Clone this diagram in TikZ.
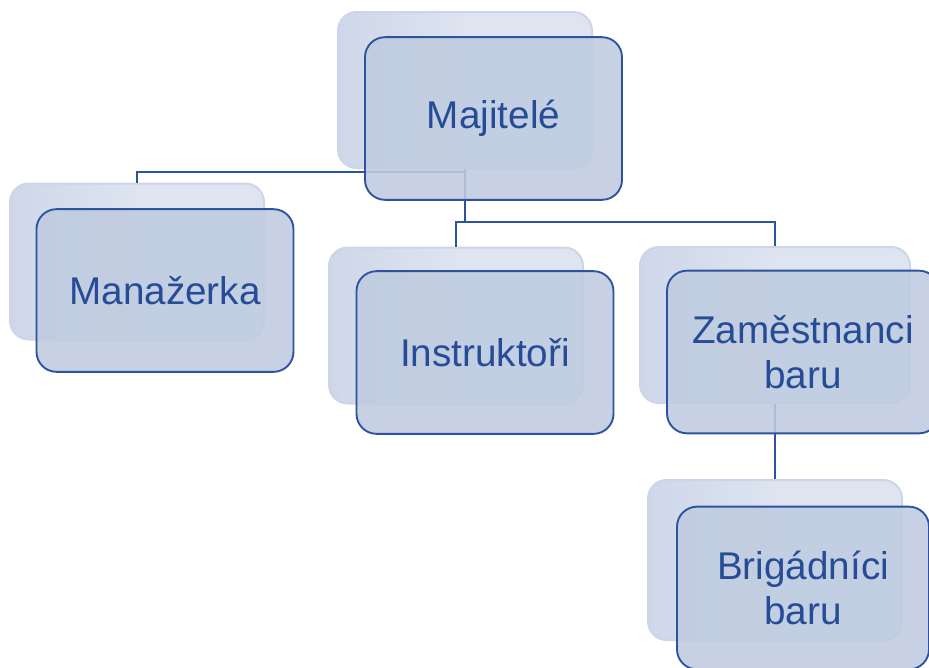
\documentclass[tikz,border=0pt]{standalone}
\usepackage{fontspec}
\setmainfont{Liberation Sans}
\usepackage{tikz}
\usetikzlibrary{positioning,calc}
\definecolor{OrgBlue}{RGB}{44,82,160}
\definecolor{OrgText}{RGB}{38,76,152}
\definecolor{OrgFill}{RGB}{191,203,223}
\definecolor{BackFill}{RGB}{222,228,240}
\definecolor{BackLine}{RGB}{204,214,232}
\definecolor{BackShade}{RGB}{206,215,233}
\tikzset{
  backbox/.style={rounded corners=14pt,draw=BackLine,line width=1.5pt,
    left color=BackShade,right color=BackFill,middle color=BackFill,
    minimum width=190.5pt,minimum height=117pt},
  frontbox/.style={rounded corners=15pt,draw=OrgBlue,line width=1.4pt,fill=OrgFill,
    fill opacity=0.88,text opacity=1,text=OrgText,align=center,
    font=\fontsize{29}{34}\selectfont,minimum width=192.75pt,minimum height=122pt},
  link/.style={draw=OrgBlue,line width=1.8pt},
}
\begin{document}
\begin{tikzpicture}[x=0.75pt,y=-0.75pt]
        \useasboundingbox (0,0) rectangle (929,668);
        \clip (0,0) rectangle (929,668);
        \node[backbox] (majB) at (465,90) {};
        \node[backbox] (manB) at (137,261.5) {};
        \node[backbox] (insB) at (456,325.5) {};
        \node[backbox,minimum width=202.5pt] (zamB) at (775,325) {};
        \node[backbox,minimum height=120pt] (briB) at (775,560) {};
        \draw[link] (majB.south) -- ++(0,3) -| (manB.north);
        \draw[link] (majB.south) -- ++(0,53) -| (insB.north);
        \draw[link] (majB.south) -- ++(0,53) -| (zamB.north);
        \draw[link] (zamB.south) -- (briB.north);
        \node[frontbox] (majF) at ($(majB)+(28.5,28.5)$) {Majitelé};
        \node[frontbox] (manF) at ($(manB)+(28,29)$) {Manažerka};
        \node[frontbox] (insF) at ($(insB)+(29,27)$) {Instruktoři};
        \node[frontbox,minimum width=204pt] (zamF) at ($(zamB)+(28,27)$) {Zaměstnanci\\baru};
        \node[frontbox,minimum width=189pt] (briF) at ($(briB)+(28,28)$) {Brigádníci\\baru};
      \end{tikzpicture}
\end{document}
